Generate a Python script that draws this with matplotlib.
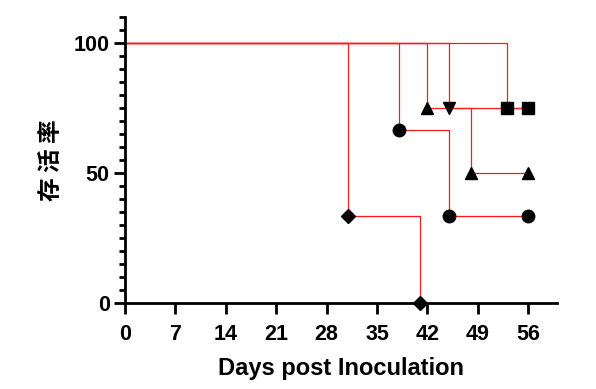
import matplotlib
matplotlib.use("Agg")
import matplotlib.pyplot as plt
from matplotlib.ticker import MultipleLocator

# survival curves (days, percent survival)
diamond_days = [0, 31, 41]
diamond_surv = [100, 33.3, 0]

circle_days = [0, 38, 45, 56]
circle_surv = [100, 66.7, 33.3, 33.3]

tri_up_days = [0, 42, 48, 56]
tri_up_surv = [100, 75, 50, 50]

tri_down_days = [0, 45, 56]
tri_down_surv = [100, 75, 75]

square_days = [0, 53, 56]
square_surv = [100, 75, 75]

x_ticks = [0, 7, 14, 21, 28, 35, 42, 49, 56]
y_ticks = [0, 50, 100]

plt.rcParams["font.family"] = ["Liberation Sans", "DejaVu Sans"]

fig = plt.figure(figsize=(5.96, 3.89), dpi=100)
ax = fig.add_axes([0.2097, 0.2211, 0.7249, 0.7352])

groups = [
    (diamond_days, diamond_surv, "D", 7.5, [1, 2]),
    (circle_days, circle_surv, "o", 9, [1, 2, 3]),
    (tri_up_days, tri_up_surv, "^", 9, [1, 2, 3]),
    (tri_down_days, tri_down_surv, "v", 9, [1]),
    (square_days, square_surv, "s", 8.5, [1, 2]),
]

for days, surv, mk, ms, idx in groups:
    ax.step(days, surv, where="post", color="#ff1a1a", linewidth=0.9, zorder=2)
    ax.plot([days[i] for i in idx], [surv[i] for i in idx], linestyle="none",
            marker=mk, markersize=ms, color="black", zorder=4, clip_on=False)

ax.set_xlim(0, 60)
ax.set_ylim(0, 110)
ax.set_xticks(x_ticks)
ax.set_yticks(y_ticks)
ax.yaxis.set_minor_locator(MultipleLocator(5))

for s in ["top", "right"]:
    ax.spines[s].set_visible(False)
for s in ["left", "bottom"]:
    ax.spines[s].set_linewidth(2)

ax.tick_params(axis="both", which="major", width=2, length=8, labelsize=15.5)
ax.tick_params(axis="x", which="major", pad=7)
ax.tick_params(axis="y", which="major", pad=3)
ax.tick_params(axis="y", which="minor", width=2, length=4.5)
for lab in ax.get_xticklabels() + ax.get_yticklabels():
    lab.set_fontweight("bold")

ax.set_xlabel("Days post Inoculation", fontsize=17, fontweight="bold", labelpad=9)
ax.set_ylabel("存 活 率", fontsize=17, fontweight="bold", labelpad=8,
              family=["Noto Sans CJK SC", "DejaVu Sans"])

fig.savefig("out.png", dpi=100)
